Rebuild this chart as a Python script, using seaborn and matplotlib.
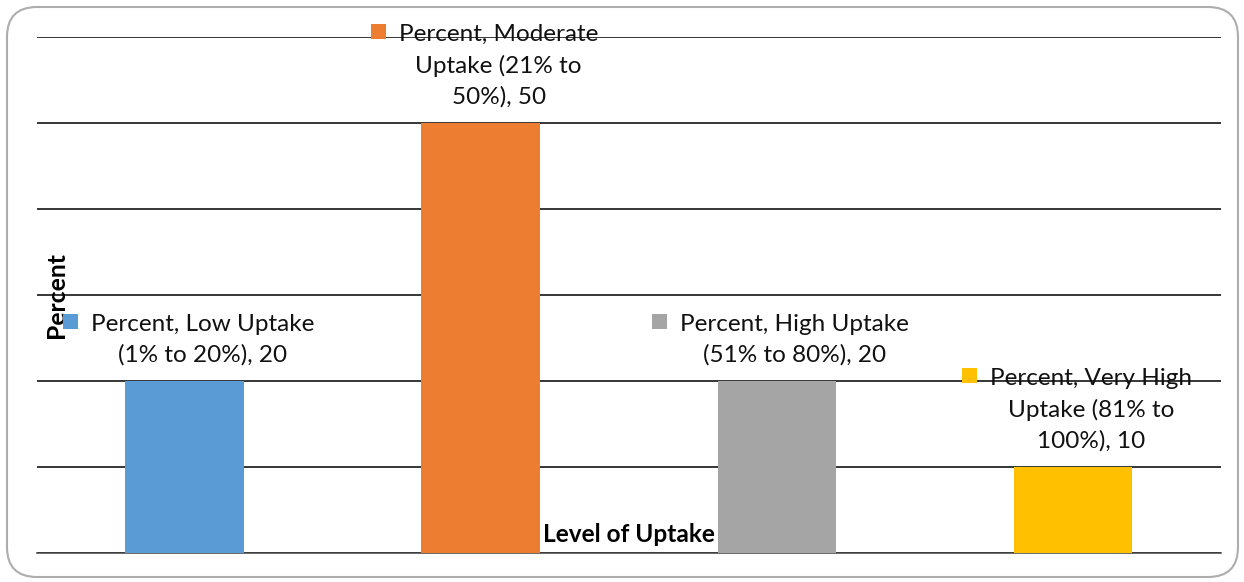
import matplotlib
matplotlib.use("Agg")
import matplotlib.pyplot as plt
from matplotlib.patches import Rectangle, FancyBboxPatch
from matplotlib.transforms import IdentityTransform
import seaborn as sns

# Data
series_name = "Percent"
categories = ["Low Uptake", "Moderate Uptake", "High Uptake", "Very High Uptake"]
label_texts = [
    "Low Uptake\n(1% to 20%)",
    "Moderate\nUptake (21% to\n50%)",
    "High Uptake\n(51% to 80%)",
    "Very High\nUptake (81% to\n100%)",
]
values = [20, 50, 20, 10]
colors = ["#5B9BD5", "#ED7D31", "#A5A5A5", "#FFC000"]
y_ticks = [0, 10, 20, 30, 40, 50, 60]
x_title = "Level of Uptake"
y_title = "Percent"

sns.set_theme(style="white")
plt.rcParams["font.family"] = ["Lato", "DejaVu Sans"]

DPI = 100
fig = plt.figure(figsize=(12.44, 5.82), dpi=DPI)
W, H = 1244, 582
ax = fig.add_axes([36.5 / W, 1 - 553 / H, (1221 - 36.5) / W, (553 - 37) / H])

sns.barplot(x=categories, y=values, hue=categories, palette=colors,
            width=0.4, saturation=1, legend=False, ax=ax, zorder=3,
            edgecolor="none", linewidth=0)

ax.set_ylim(y_ticks[0], y_ticks[-1])
ax.set_xlim(-0.5, len(categories) - 0.5)
ax.set_yticks(y_ticks)
ax.yaxis.grid(True, color="#000000", linewidth=1.1, zorder=1)
ax.set_axisbelow(True)
ax.tick_params(left=False, bottom=False, labelleft=False, labelbottom=False)
for side in ["top", "right", "left"]:
    ax.spines[side].set_visible(False)
ax.spines["bottom"].set_color("#404040")
ax.spines["bottom"].set_linewidth(1.1)
ax.set_xlabel("")
ax.set_ylabel("")

# Axis titles drawn inside the plot area
ax.text(0.5, 0.035, x_title, transform=ax.transAxes, ha="center", va="center",
        fontsize=17.6, fontweight="bold", color="#000000", zorder=5)
fig.text(57 / W, 0.5 * ((1 - 553 / H) + (1 - 37 / H)), y_title, rotation=90,
         ha="center", va="center", fontsize=17.8, fontweight="bold", color="#000000")

# Data labels with legend keys
texts = []
for i, (lab, v) in enumerate(zip(label_texts, values)):
    t = ax.annotate(f"{series_name}, {lab}, {v}", xy=(i, v), xytext=(13, 11),
                    textcoords="offset points", ha="center", va="bottom",
                    multialignment="center", fontsize=17.5, color="#111111",
                    linespacing=1.54, zorder=6)
    texts.append(t)

fig.canvas.draw()
renderer = fig.canvas.get_renderer()
key = 15
for t, c in zip(texts, colors):
    bb = t.get_window_extent(renderer)
    x0 = bb.x0 - 13 - key
    y0 = bb.y1 - key
    fig.add_artist(Rectangle((x0, y0), key, key, transform=IdentityTransform(),
                             facecolor=c, edgecolor="none", zorder=7))

# Rounded chart border
fig.add_artist(FancyBboxPatch((7, 5), 1231, 570,
                              boxstyle="round,pad=0,rounding_size=30",
                              transform=IdentityTransform(), facecolor="none",
                              edgecolor="#ADADAD", linewidth=1.5, zorder=0))

fig.savefig("out.png", dpi=DPI)
